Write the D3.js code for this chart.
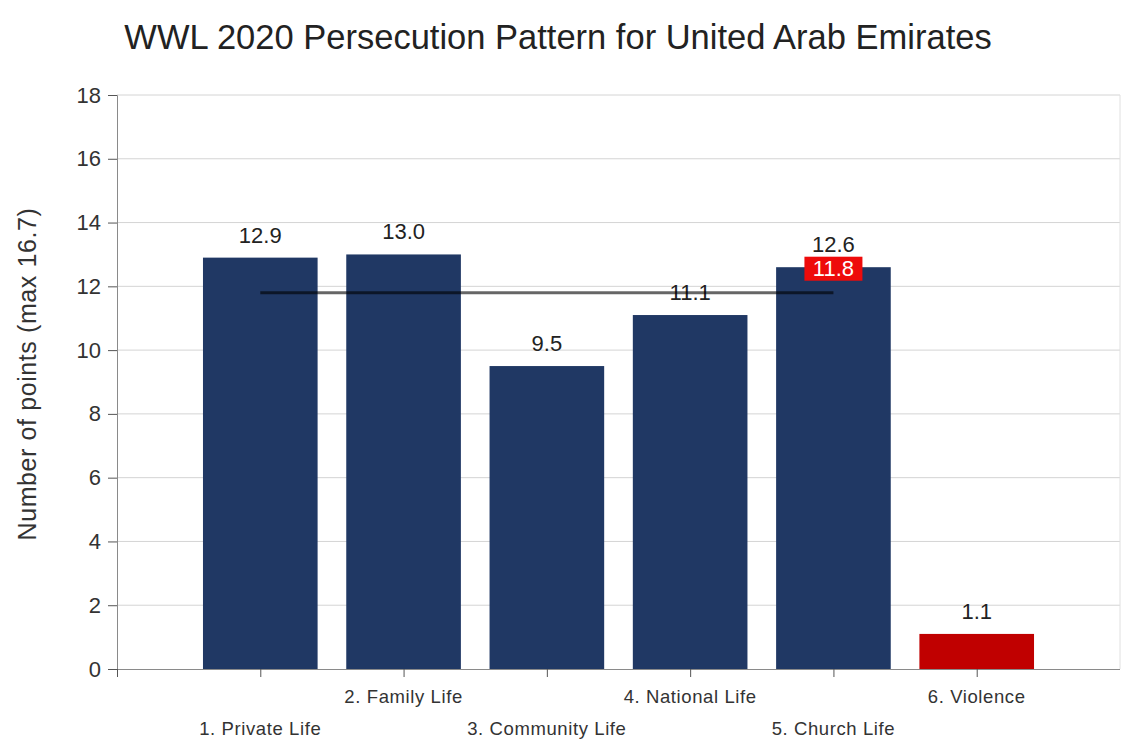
<!DOCTYPE html>
<html>
<head>
<meta charset="utf-8">
<script src="https://cdn.jsdelivr.net/npm/d3@7"></script>
<style>
  html, body { margin: 0; padding: 0; background: #fff; }
  svg { display: block; }
  text { font-family: "Liberation Sans", Arial, sans-serif; }
</style>
</head>
<body>
<svg id="chart" width="1121" height="740"></svg>
<script>
const categories = ["1. Private Life", "2. Family Life", "3. Community Life", "4. National Life", "5. Church Life", "6. Violence"];
const values = [12.9, 13.0, 9.5, 11.1, 12.6, 1.1];
const barColors = ["#203864", "#203864", "#203864", "#203864", "#203864", "#c00000"];
const averageValue = 11.8;
const yTicks = [0, 2, 4, 6, 8, 10, 12, 14, 16, 18];
const titleText = "WWL 2020 Persecution Pattern for United Arab Emirates";
const yTitle = "Number of points (max 16.7)";

const svg = d3.select("#chart");
const mLeft = 117, mRight = 1120, mTop = 95, mBottom = 669;

const x = d3.scaleLinear().domain([0, categories.length + 1]).range([mLeft, mRight]);
const y = d3.scaleLinear().domain([0, 18]).range([mBottom, mTop]);
const step = x(1) - x(0);
const bw = step * 0.8;

// gridlines
svg.append("g").selectAll("line").data(yTicks.filter(d => d > 0)).join("line")
  .attr("x1", mLeft).attr("x2", mRight)
  .attr("y1", d => y(d)).attr("y2", d => y(d))
  .attr("stroke", "#d4d4d4").attr("stroke-width", 1);
svg.append("line").attr("x1", mRight).attr("x2", mRight).attr("y1", mTop).attr("y2", mBottom)
  .attr("stroke", "#e0e0e0");

// bars
svg.append("g").selectAll("rect").data(values).join("rect")
  .attr("x", (d, i) => x(i + 1) - bw / 2)
  .attr("width", bw)
  .attr("y", d => y(d))
  .attr("height", d => y(0) - y(d))
  .attr("fill", (d, i) => barColors[i]);

// y axis
const yAxis = svg.append("g").attr("transform", `translate(${mLeft},0)`)
  .call(d3.axisLeft(y).tickValues(yTicks).tickSize(9).tickPadding(7).tickFormat(d3.format("d")));
yAxis.select(".domain").attr("stroke", "#8a8a8a");
yAxis.selectAll(".tick line").attr("stroke", "#555");
yAxis.selectAll(".tick text").attr("font-size", 22).attr("fill", "#333")
  .attr("font-family", "Liberation Sans, Arial, sans-serif");

// x axis
const xAxis = svg.append("g").attr("transform", `translate(0,${mBottom})`)
  .call(d3.axisBottom(x).tickValues(d3.range(0, categories.length + 1)).tickSize(8).tickFormat(""));
xAxis.select(".domain").attr("stroke", "#8a8a8a").attr("d", `M${mLeft},0.5H${mRight}`);
xAxis.selectAll(".tick line").attr("stroke", "#555");

// x labels, staggered
svg.append("g").selectAll("text").data(categories).join("text")
  .attr("x", (d, i) => x(i + 1))
  .attr("y", (d, i) => i % 2 === 0 ? 735 : 703)
  .attr("text-anchor", "middle")
  .attr("font-size", 18.5)
  .attr("letter-spacing", 0.6)
  .attr("fill", "#333")
  .text(d => d);

// value labels
svg.append("g").selectAll("text").data(values).join("text")
  .attr("x", (d, i) => x(i + 1))
  .attr("y", d => y(d) - 15)
  .attr("text-anchor", "middle")
  .attr("font-size", 22)
  .attr("fill", "#222")
  .text(d => d3.format(".1f")(d));

// average line
svg.append("line")
  .attr("x1", x(1)).attr("x2", x(5))
  .attr("y1", y(averageValue)).attr("y2", y(averageValue))
  .attr("stroke", "#000").attr("stroke-opacity", 0.6).attr("stroke-width", 3);

// average label box
const bx = x(5), by = y(averageValue) - 25;
svg.append("rect").attr("x", bx - 29).attr("y", by - 11).attr("width", 58).attr("height", 24)
  .attr("fill", "#ee0b0b");
svg.append("text").attr("x", bx).attr("y", by + 8).attr("text-anchor", "middle")
  .attr("font-size", 22).attr("fill", "#fff").text(d3.format(".1f")(averageValue));

// title
svg.append("text").attr("x", 558).attr("y", 49).attr("text-anchor", "middle")
  .attr("font-size", 34.5).attr("fill", "#222").text(titleText);

// y title
svg.append("text").attr("transform", `translate(36,${(mTop + mBottom) / 2 - 8}) rotate(-90)`)
  .attr("text-anchor", "middle").attr("font-size", 25).attr("letter-spacing", 0.6)
  .attr("fill", "#333").text(yTitle);
</script>
</body>
</html>
